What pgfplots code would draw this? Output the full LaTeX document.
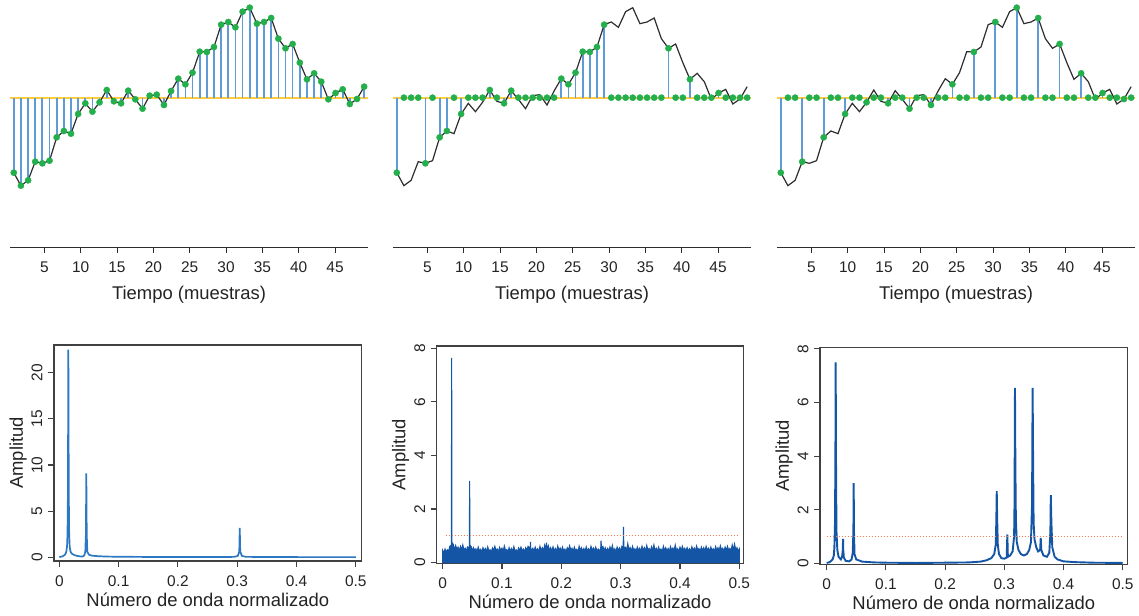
\documentclass[border=0pt]{standalone}
\usepackage{fontspec}
\setmainfont{Liberation Sans}
\usepackage{pgfplots}
\usepackage{pgfplotstable}
\pgfplotsset{compat=1.18}
\definecolor{baseY}{RGB}{255,205,60}
\definecolor{stemB}{RGB}{95,155,215}
\definecolor{dotG}{RGB}{35,175,75}
\definecolor{sigK}{RGB}{45,45,45}
\definecolor{specA}{RGB}{45,120,195}
\definecolor{specB}{RGB}{20,85,165}
\definecolor{thr}{RGB}{245,125,85}
\definecolor{frameG}{RGB}{65,65,65}
\definecolor{txt}{RGB}{35,35,35}

\pgfplotstableread{
i t v s2 s3
1 0.80 -22.5 -22.5 -22.5
2 1.78 -26.4 0 0
3 2.77 -24.8 0 0
4 3.75 -19.2 0 -19.2
5 4.73 -19.7 -19.7 0
6 5.72 -18.9 0 0
7 6.70 -11.9 -11.9 -11.9
8 7.69 -10.0 -10.0 0
9 8.67 -10.8 0 0
10 9.65 -4.9 -4.9 -4.9
11 10.64 -1.7 0 0
12 11.62 -4.2 0 0
13 12.60 -1.4 0 -1.4
14 13.59 2.3 2.3 0
15 14.57 -1.1 0 0
16 15.56 -1.7 -1.7 -1.7
17 16.54 2.1 2.1 0
18 17.52 -0.5 0 0
19 18.51 -3.3 0 -3.3
20 19.49 0.6 0 0
21 20.47 0.9 0 0
22 21.46 -2.2 0 -2.2
23 22.44 2.0 0 0
24 23.43 5.7 5.7 0
25 24.41 4.0 4.0 4.0
26 25.39 7.5 7.5 0
27 26.38 13.8 13.8 0
28 27.36 13.7 13.7 13.7
29 28.34 15.2 15.2 0
30 29.33 21.9 21.9 0
31 30.31 22.7 0 22.7
32 31.29 21.1 0 0
33 32.28 25.8 0 0
34 33.26 27.0 0 27.0
35 34.25 22.2 0 0
36 35.23 22.7 0 0
37 36.21 23.9 0 23.9
38 37.20 17.7 0 0
39 38.18 14.8 14.8 0
40 39.16 16.1 0 16.1
41 40.15 10.5 0 0
42 41.13 5.5 5.5 0
43 42.12 7.3 0 7.3
44 43.10 4.8 0 0
45 44.08 -0.5 0 0
46 45.07 1.4 1.4 1.4
47 46.05 2.5 0 0
48 47.03 -1.9 0 0
49 48.02 -0.4 0 -0.4
50 49.00 3.3 0 0
}\sig

\pgfplotsset{
  /pgf/number format/assume math mode=true,
  toprow/.style={
    scale only axis, width=358bp, height=248bp,
    xmin=0.28, xmax=49.53, ymin=-45.1, ymax=29.3,
    axis x line=bottom, axis y line=none,
    x axis line style={-, draw=sigK, line width=1bp},
    xtick={5,10,...,45}, ytick=\empty,
    tick align=outside, major tick length=5bp,
    x tick style={draw=sigK, line width=0.9bp},
    xticklabel style={font=\fontsize{15.5}{17}\selectfont, text=txt, anchor=center, yshift=-14bp},
    xlabel={Tiempo (muestras)},
    every axis x label/.style={at={(axis description cs:0.5,0)}, anchor=center, yshift=-47bp, font=\fontsize{18.5}{21}\selectfont, text=txt},
    clip=false,
  },
  botrow/.style={
    scale only axis,
    axis line style={draw=frameG, line width=1.3bp},
    tick style={draw=frameG, line width=1.1bp},
    tick align=outside, major tick length=6bp,
    xtick pos=lower, ytick pos=left,
    xtick={0,0.1,...,0.5},
    xticklabels={0,0.1,0.2,0.3,0.4,0.5},
    xticklabel style={font=\fontsize{15.5}{17}\selectfont, text=txt, anchor=center, yshift=-14bp},
    yticklabel style={font=\fontsize{15.5}{17}\selectfont, text=txt, xshift=-11bp, rotate=90, anchor=center},
    xlabel={Número de onda normalizado},
    ylabel={Amplitud},
    every axis x label/.style={at={(axis description cs:0.5,0)}, anchor=center, yshift=-39bp, font=\fontsize{18.5}{21}\selectfont, text=txt},
    every axis y label/.style={at={(axis description cs:0,0.5)}, anchor=center, xshift=-36bp, rotate=90, font=\fontsize{18.5}{21}\selectfont, text=txt},
  },
  thrline/.style={thr, line width=1.5bp, dash pattern=on 1.5bp off 1.5bp},
}

\begin{document}
\begin{tikzpicture}
\path[use as bounding box] (0,0) rectangle (1139bp,616bp);

% ---------- top row ----------
\begin{axis}[toprow, at={(10bp,368bp)}, anchor=south west]
\addplot[draw=baseY, line width=2bp] coordinates {(0.28,0) (49.53,0)};
\addplot[ycomb, draw=stemB, line width=1.7bp] table[x=t, y=v] {\sig};
\addplot[only marks, mark=*, mark size=3.1bp, mark options={fill=dotG, draw=dotG}] table[x=t, y=v] {\sig};
\addplot[draw=sigK, line width=1.2bp] table[x=t, y=v] {\sig};
\end{axis}

\begin{axis}[toprow, at={(393bp,368bp)}, anchor=south west]
\addplot[draw=baseY, line width=2bp] coordinates {(0.28,0) (49.53,0)};
\addplot[ycomb, draw=stemB, line width=1.7bp] table[x=t, y=s2] {\sig};
\addplot[draw=sigK, line width=1.2bp] table[x=t, y=v] {\sig};
\addplot[only marks, mark=*, mark size=3.1bp, mark options={fill=dotG, draw=dotG}] table[x=t, y=s2] {\sig};
\end{axis}

\begin{axis}[toprow, at={(777bp,368bp)}, anchor=south west]
\addplot[draw=baseY, line width=2bp] coordinates {(0.28,0) (49.53,0)};
\addplot[ycomb, draw=stemB, line width=1.7bp] table[x=t, y=s3] {\sig};
\addplot[draw=sigK, line width=1.2bp] table[x=t, y=v] {\sig};
\addplot[only marks, mark=*, mark size=3.1bp, mark options={fill=dotG, draw=dotG}] table[x=t, y=s3] {\sig};
\end{axis}

% ---------- bottom row ----------
\begin{axis}[botrow, at={(54bp,55bp)}, anchor=south west, width=307.7bp, height=216bp,
  xmin=-0.009, xmax=0.510, ymin=-0.4, ymax=23.0, ytick={0,5,10,15,20}]
\addplot[specA, line width=1.7bp] coordinates {
(0,0.02) (0.005,0.1) (0.009,0.25) (0.011,0.45) (0.012,0.7) (0.013,1.2) (0.0138,2.5) (0.0145,7) (0.0152,22.5) (0.0159,7) (0.0166,2.5) (0.0175,1.1) (0.019,0.6) (0.021,0.4) (0.025,0.25) (0.03,0.15) (0.035,0.1) (0.039,0.08)
(0.042,0.2) (0.0438,0.6) (0.0448,2.5) (0.0455,9.1) (0.0462,2.5) (0.0472,0.6) (0.05,0.28) (0.055,0.18) (0.065,0.12) (0.08,0.08) (0.1,0.06) (0.15,0.04) (0.2,0.03) (0.28,0.03) (0.295,0.05) (0.301,0.15) (0.3035,0.6) (0.3043,3.2) (0.3051,0.6) (0.308,0.15) (0.315,0.05) (0.35,0.03) (0.42,0.02) (0.5,0.02)};
\end{axis}

\begin{axis}[botrow, at={(436.7bp,52.7bp)}, anchor=south west, width=306.6bp, height=217.3bp,
  xmin=-0.010, xmax=0.5067, ymin=-0.03, ymax=8.09, ytick={0,2,4,6,8}]
\addplot[specB, fill=specB, line width=1.1bp] coordinates {
(0.000,0.05) (0.000,0.45) (0.002,0.35) (0.004,0.50) (0.006,0.38) (0.008,0.47) (0.010,0.41) (0.012,0.60) (0.0148,0.65) (0.0152,7.65) (0.0156,0.75) (0.018,0.67)
(0.020,0.45) (0.022,0.63) (0.024,0.49) (0.026,0.57) (0.028,0.43) (0.030,0.60) (0.032,0.47) (0.034,0.65) (0.036,0.45) (0.038,0.53) (0.040,0.41) (0.042,0.58) (0.0451,0.55) (0.0455,3.05) (0.0459,0.65)
(0.048,0.60) (0.050,0.43) (0.052,0.55) (0.054,0.45) (0.056,0.51) (0.058,0.40) (0.060,0.57) (0.062,0.43) (0.064,0.49) (0.066,0.38) (0.068,0.55) (0.070,0.44) (0.072,0.52) (0.074,0.40) (0.076,0.58)
(0.078,0.42) (0.080,0.47) (0.082,0.39) (0.084,0.54) (0.086,0.45) (0.088,0.60) (0.090,0.43) (0.092,0.50) (0.094,0.38) (0.096,0.56) (0.098,0.45) (0.100,0.53) (0.102,0.41) (0.104,0.61) (0.106,0.44)
(0.108,0.48) (0.110,0.39) (0.112,0.55) (0.114,0.43) (0.116,0.52) (0.118,0.41) (0.120,0.59) (0.122,0.42) (0.124,0.47) (0.126,0.38) (0.128,0.54) (0.130,0.45) (0.132,0.57) (0.134,0.43) (0.136,0.50)
(0.138,0.40) (0.140,0.55) (0.142,0.45) (0.144,0.60) (0.1475,0.50) (0.148,0.77) (0.1485,0.50) (0.150,0.45) (0.152,0.53) (0.154,0.41) (0.156,0.57) (0.158,0.43) (0.160,0.51) (0.162,0.40) (0.164,0.60)
(0.166,0.45) (0.168,0.55) (0.170,0.43) (0.172,0.65) (0.1745,0.50) (0.175,0.74) (0.1755,0.50) (0.178,0.63) (0.180,0.45) (0.182,0.55) (0.184,0.42) (0.186,0.58) (0.188,0.44) (0.190,0.52) (0.192,0.40)
(0.194,0.61) (0.196,0.45) (0.198,0.54) (0.200,0.42) (0.202,0.57) (0.204,0.43) (0.206,0.50) (0.208,0.39) (0.210,0.55) (0.212,0.46) (0.214,0.62) (0.216,0.44) (0.218,0.53) (0.220,0.41) (0.222,0.57)
(0.224,0.43) (0.226,0.49) (0.228,0.38) (0.230,0.60) (0.232,0.45) (0.234,0.55) (0.236,0.42) (0.238,0.52) (0.240,0.40) (0.242,0.58) (0.244,0.44) (0.246,0.51) (0.248,0.41) (0.250,0.60) (0.252,0.45)
(0.254,0.54) (0.256,0.42) (0.258,0.57) (0.260,0.43) (0.262,0.50) (0.264,0.41) (0.2665,0.55) (0.267,0.82) (0.2675,0.55) (0.270,0.60) (0.272,0.44) (0.274,0.55) (0.276,0.41) (0.278,0.52) (0.280,0.43)
(0.282,0.58) (0.284,0.45) (0.286,0.63) (0.288,0.42) (0.290,0.51) (0.292,0.40) (0.294,0.57) (0.296,0.44) (0.298,0.54) (0.300,0.42) (0.302,0.60) (0.3043,0.55) (0.3048,1.33) (0.3053,0.55) (0.308,0.57)
(0.310,0.45) (0.312,0.70) (0.314,0.47) (0.316,0.55) (0.318,0.42) (0.320,0.60) (0.322,0.45) (0.324,0.51) (0.326,0.40) (0.328,0.57) (0.330,0.44) (0.332,0.53) (0.334,0.41) (0.336,0.60) (0.338,0.45)
(0.340,0.55) (0.342,0.42) (0.344,0.63) (0.346,0.46) (0.348,0.52) (0.350,0.41) (0.352,0.58) (0.354,0.45) (0.356,0.65) (0.358,0.43) (0.360,0.53) (0.362,0.41) (0.364,0.57) (0.366,0.44) (0.368,0.50)
(0.370,0.40) (0.372,0.60) (0.374,0.45) (0.376,0.55) (0.378,0.42) (0.380,0.52) (0.382,0.41) (0.384,0.59) (0.386,0.45) (0.388,0.54) (0.390,0.43) (0.392,0.65) (0.394,0.45) (0.396,0.51) (0.398,0.40)
(0.400,0.57) (0.402,0.44) (0.404,0.60) (0.406,0.45) (0.408,0.53) (0.410,0.41) (0.412,0.55) (0.414,0.43) (0.416,0.51) (0.418,0.40) (0.420,0.58) (0.422,0.45) (0.424,0.54) (0.426,0.42) (0.428,0.61)
(0.430,0.45) (0.432,0.52) (0.434,0.41) (0.436,0.57) (0.438,0.44) (0.440,0.55) (0.442,0.42) (0.444,0.60) (0.446,0.45) (0.448,0.53) (0.450,0.41) (0.452,0.57) (0.454,0.44) (0.456,0.51) (0.458,0.40)
(0.460,0.59) (0.462,0.45) (0.464,0.55) (0.466,0.42) (0.468,0.62) (0.470,0.45) (0.472,0.53) (0.474,0.41) (0.476,0.57) (0.478,0.44) (0.480,0.60) (0.482,0.45) (0.484,0.52) (0.486,0.42) (0.488,0.65)
(0.490,0.47) (0.492,0.68) (0.494,0.45) (0.496,0.55) (0.498,0.42) (0.500,0.50) (0.500,0.05)} \closedcycle;
\addplot[thrline] coordinates {(0.005,1) (0.5,1)};
\end{axis}

\begin{axis}[botrow, at={(820bp,51.7bp)}, anchor=south west, width=307.7bp, height=217bp,
  xmin=-0.0113, xmax=0.5084, ymin=-0.03, ymax=8.06, ytick={0,2,4,6,8}]
\addplot[specB, line width=1.9bp] coordinates {
(0,0.02) (0.005,0.05) (0.01,0.15) (0.012,0.3) (0.013,0.6) (0.014,1.5) (0.0147,4) (0.0152,7.5) (0.0157,4) (0.0165,1.2) (0.018,0.5) (0.02,0.25) (0.024,0.15) (0.026,0.25) (0.0272,0.5) (0.0276,0.92) (0.028,0.5) (0.029,0.22) (0.032,0.1) (0.038,0.08) (0.042,0.15) (0.044,0.4) (0.0451,1.2) (0.0456,3.0) (0.0461,1.2) (0.047,0.35) (0.05,0.15) (0.06,0.07) (0.08,0.04) (0.1,0.03) (0.15,0.02) (0.2,0.03) (0.24,0.04) (0.26,0.07) (0.27,0.12) (0.278,0.2) (0.283,0.35) (0.2855,0.7) (0.2865,1.6) (0.2872,2.7) (0.288,1.6) (0.289,0.7) (0.291,0.35) (0.295,0.2) (0.3,0.18) (0.304,0.22) (0.3051,1.08) (0.306,0.25) (0.31,0.3) (0.314,0.45) (0.3165,1.0) (0.3172,2.2) (0.318,6.55) (0.3187,3.6) (0.3195,1.7) (0.321,0.8) (0.324,0.5) (0.328,0.35) (0.333,0.3) (0.338,0.35) (0.342,0.5) (0.345,0.8) (0.3468,2.2) (0.3478,6.55) (0.3487,3.6) (0.3495,1.5) (0.351,0.9) (0.354,0.6) (0.357,0.45) (0.3605,0.5) (0.3615,0.95) (0.3625,0.5) (0.366,0.3) (0.372,0.25) (0.376,0.4) (0.3778,1.2) (0.3785,2.55) (0.3795,1.55) (0.381,0.6) (0.385,0.25) (0.39,0.15) (0.4,0.08) (0.42,0.05) (0.45,0.03) (0.5,0.02)};
\addplot[thrline] coordinates {(0.0,1) (0.5,1)};
\end{axis}
\end{tikzpicture}
\end{document}
